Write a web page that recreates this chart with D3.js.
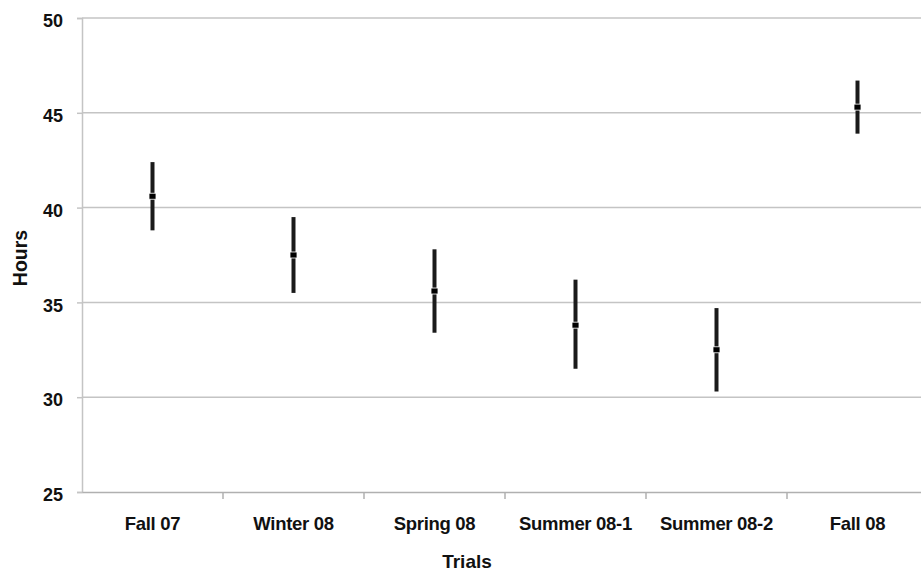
<!DOCTYPE html>
<html><head><meta charset="utf-8">
<script src="https://cdn.jsdelivr.net/npm/d3@7"></script>
<style>body{margin:0;background:#fff}svg{display:block}text{font-family:"Liberation Sans",Arial,sans-serif;font-weight:bold;fill:#111}</style>
</head><body>
<svg id="c" width="921" height="573"></svg>
<script>
const categories = ["Fall 07","Winter 08","Spring 08","Summer 08-1","Summer 08-2","Fall 08"];
const means = [40.6, 37.5, 35.6, 33.8, 32.5, 45.3];
const highs = [42.4, 39.5, 37.8, 36.2, 34.7, 46.7];
const lows  = [38.8, 35.5, 33.4, 31.5, 30.3, 43.9];
const yTicks = [25,30,35,40,45,50];

(function(){
const svg = d3.select("#c");
const mLeft = 82, mTop = 18, mBottom = 492, mRight = 928;
const x = d3.scaleBand().domain(categories).range([mLeft, mRight]);
const y = d3.scaleLinear().domain([25,50]).range([mBottom, mTop]);
const ff = "Liberation Sans, Arial, sans-serif";

// gridlines
svg.append("g").selectAll("line").data(yTicks.slice(1)).join("line")
  .attr("x1", mLeft).attr("x2", 921).attr("y1", d=>y(d)).attr("y2", d=>y(d))
  .attr("stroke","#c4c4c4").attr("stroke-width",1.5);

// y axis
const ya = svg.append("g").attr("transform",`translate(${mLeft},0)`)
  .call(d3.axisLeft(y).tickValues(yTicks).tickSize(5).tickPadding(14));
ya.select(".domain").attr("stroke","#c4c4c4").attr("stroke-width",1.5);
ya.selectAll(".tick line").attr("stroke","#c4c4c4").attr("stroke-width",1.5);
ya.selectAll("text").attr("font-size",18).attr("dy","0.48em").style("font-family",ff).style("font-weight","bold").attr("fill","#111");

// x axis
const xa = svg.append("g").attr("transform",`translate(0,${mBottom})`)
  .call(d3.axisBottom(x).tickSize(0));
xa.select(".domain").attr("stroke","#b0b0b0").attr("stroke-width",1.5);
xa.selectAll("text").attr("font-size",18.5).attr("y",38).attr("dy",0).style("letter-spacing","-0.3px")
  .style("font-family",ff).style("font-weight","bold").attr("fill","#111");
svg.append("g").selectAll("line").data(categories.slice(1)).join("line")
  .attr("x1", d=>x(d)).attr("x2", d=>x(d)).attr("y1", mBottom).attr("y2", mBottom+7)
  .attr("stroke","#b0b0b0").attr("stroke-width",1.5);

// error bars
const g = svg.append("g");
g.selectAll("line.err").data(categories).join("line").attr("class","err")
  .attr("x1", d=>x(d)+x.bandwidth()/2).attr("x2", d=>x(d)+x.bandwidth()/2)
  .attr("y1", (d,i)=>y(highs[i])).attr("y2", (d,i)=>y(lows[i]))
  .attr("stroke","#1a1a1a").attr("stroke-width",4);
g.selectAll("rect.mean").data(categories).join("rect").attr("class","mean")
  .attr("x", d=>x(d)+x.bandwidth()/2-3.5).attr("y",(d,i)=>y(means[i])-3)
  .attr("width",7).attr("height",6)
  .attr("fill","#000").attr("stroke","#fff").attr("stroke-width",0.8);

// axis titles
svg.append("text").attr("x",467).attr("y",568).attr("text-anchor","middle").attr("font-size",19).text("Trials");
svg.append("text").attr("transform","translate(27,258) rotate(-90)").attr("text-anchor","middle").attr("font-size",19.5).text("Hours");
})();
</script>
</body></html>
